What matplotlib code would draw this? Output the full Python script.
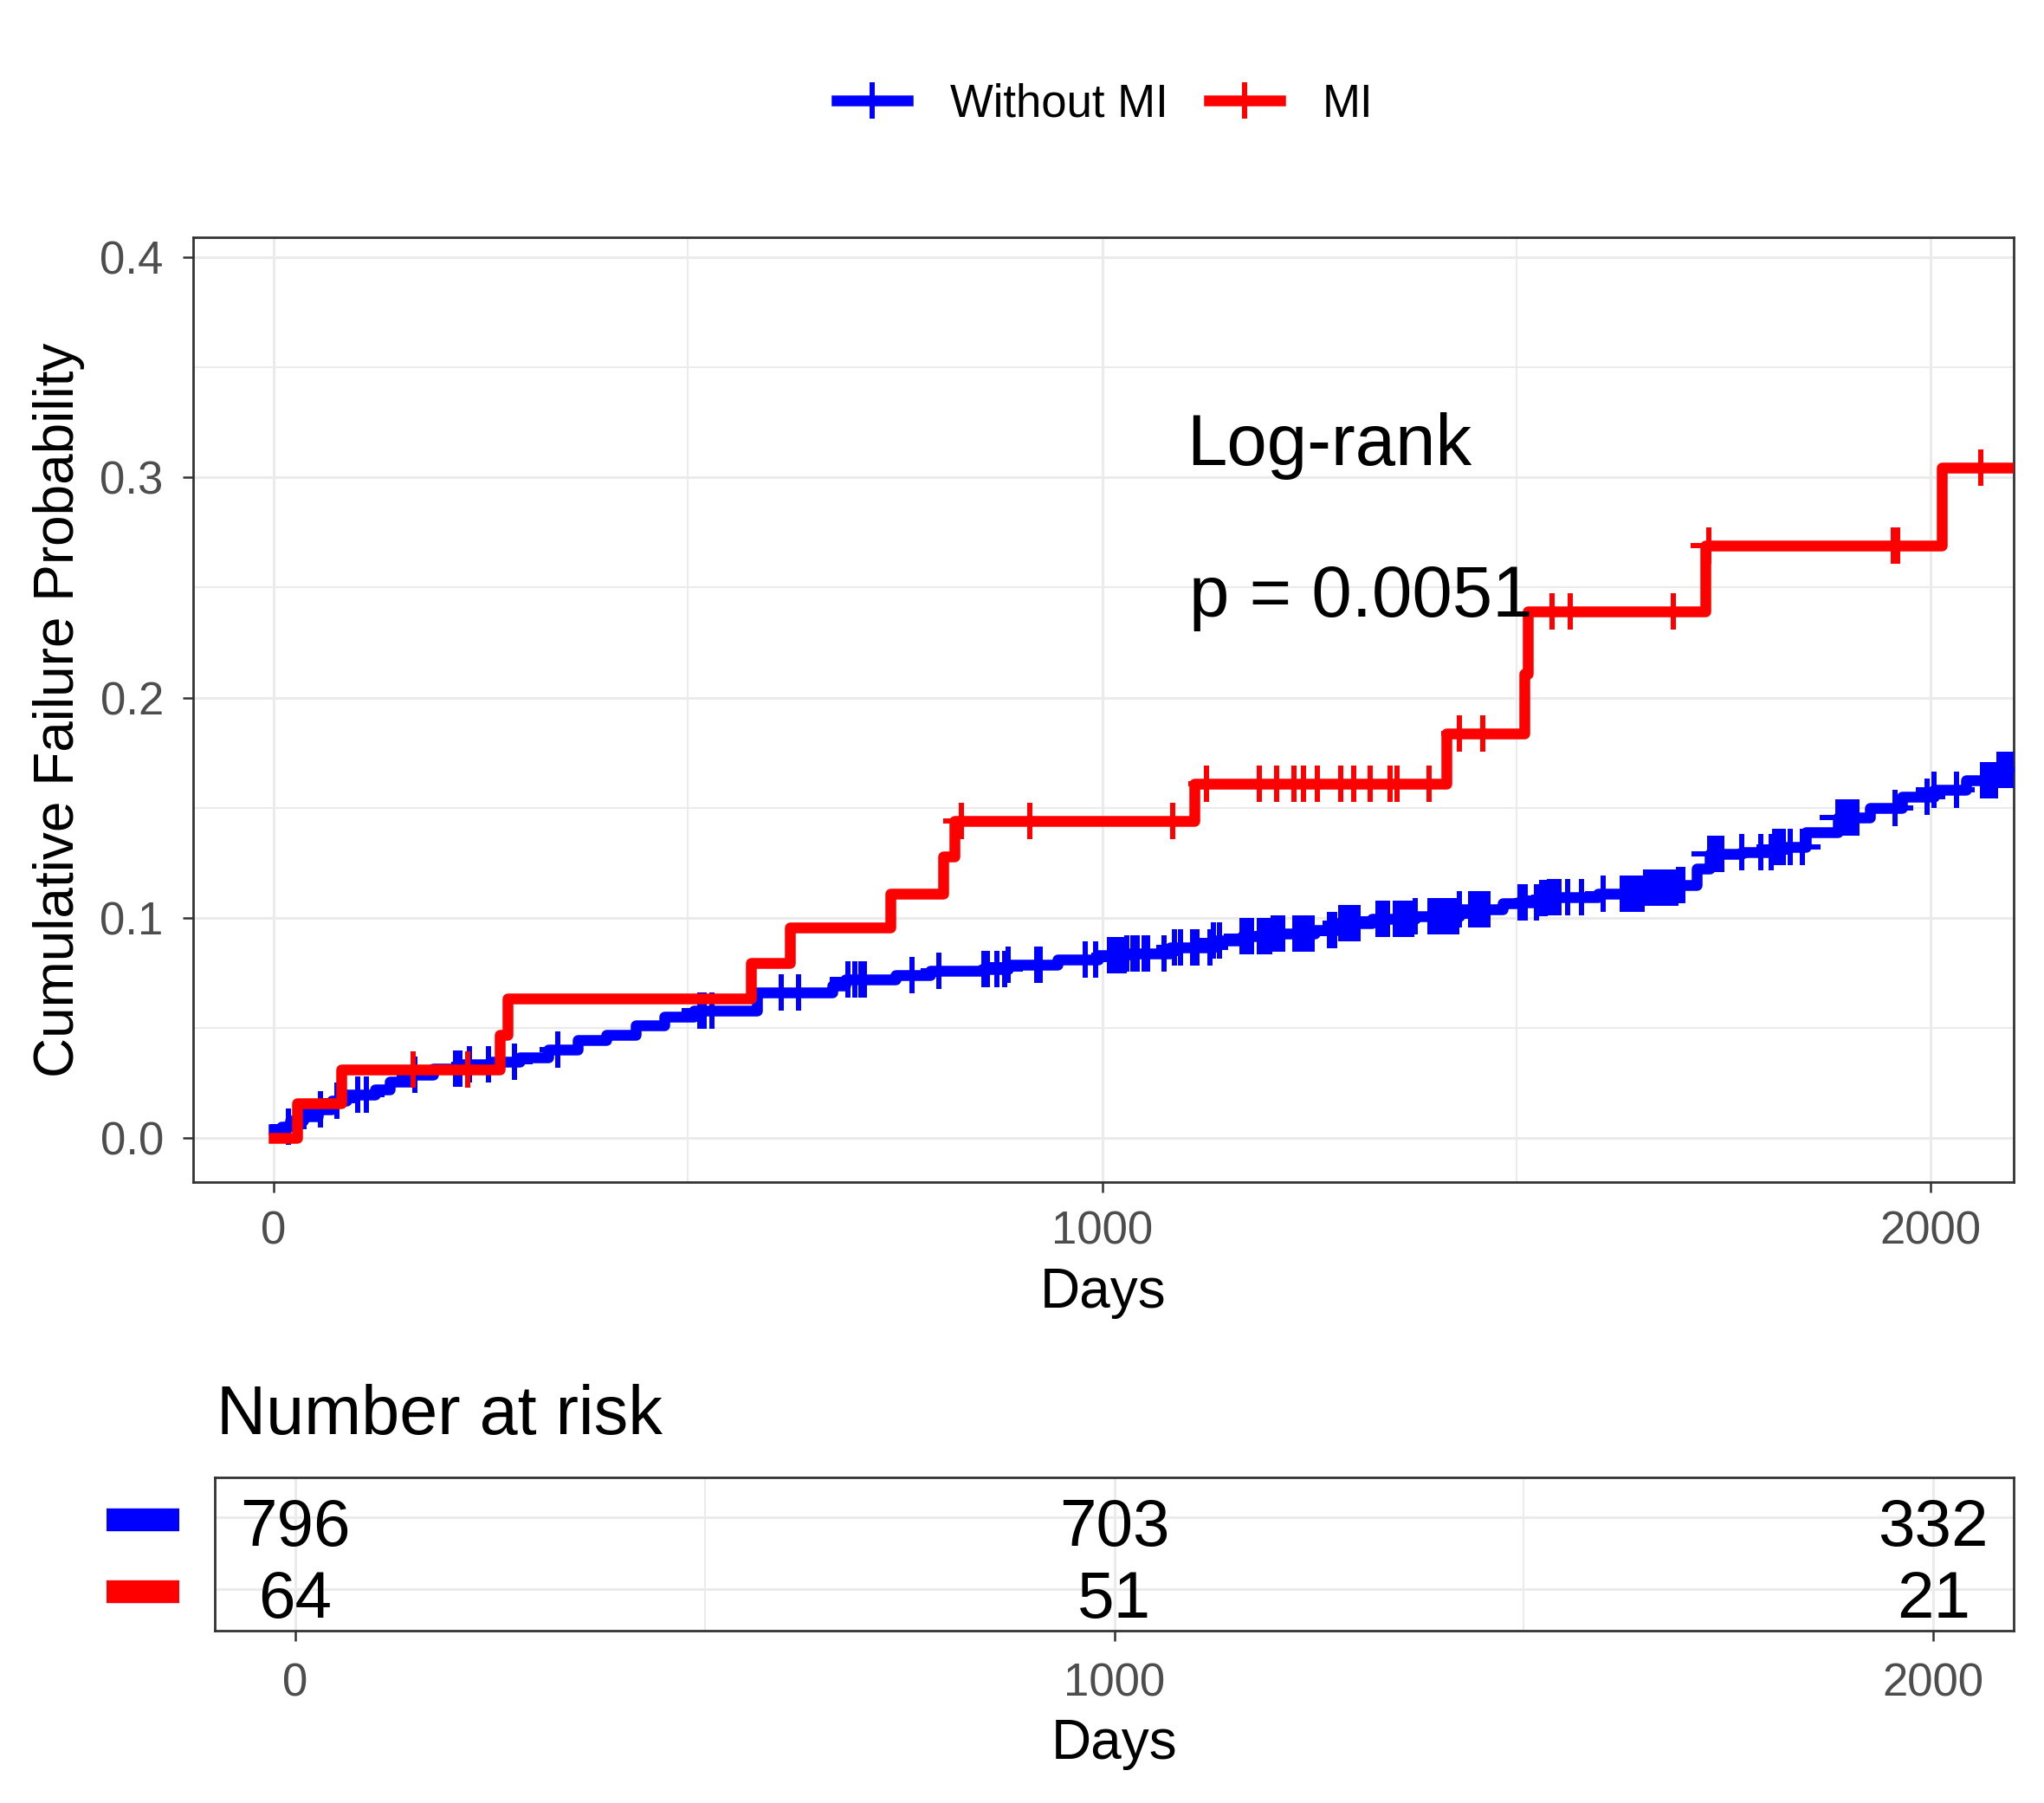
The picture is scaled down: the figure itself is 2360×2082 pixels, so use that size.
import matplotlib.pyplot as plt
import numpy as np
from matplotlib.lines import Line2D
from matplotlib.ticker import MultipleLocator
from matplotlib.transforms import blended_transform_factory, offset_copy

plt.rcParams['font.family'] = ['Liberation Sans', 'DejaVu Sans']

groups = ['Without MI', 'MI']
colors = ['#0000FF', '#FF0000']

# cumulative failure steps (days, probability)
blue_t = [0, 10, 20, 36, 53, 70, 88, 123, 140, 165, 193, 227, 262, 297, 332, 367,
          402, 437, 472, 507, 583, 674, 690, 751, 792, 855, 887, 946, 995, 1030,
          1082, 1134, 1169, 1205, 1257, 1284, 1326, 1378, 1431, 1483, 1501, 1525,
          1539, 1598, 1656, 1694, 1717, 1733, 1772, 1811, 1849, 1888, 1927, 1965,
          2004, 2043, 2082, 2100]
blue_p = [0.004, 0.005, 0.008, 0.010, 0.013, 0.017, 0.0196, 0.022, 0.0255, 0.0287,
          0.0314, 0.0334, 0.0346, 0.0366, 0.040, 0.0444, 0.047, 0.051, 0.055, 0.058,
          0.066, 0.0693, 0.072, 0.074, 0.0759, 0.0766, 0.0786, 0.081, 0.083, 0.084,
          0.0865, 0.0896, 0.0916, 0.093, 0.0943, 0.0975, 0.0994, 0.1006, 0.104,
          0.1066, 0.107, 0.109, 0.1095, 0.1108, 0.1137, 0.115, 0.1224, 0.129, 0.1297,
          0.132, 0.139, 0.1457, 0.150, 0.155, 0.158, 0.1623, 0.167, 0.167]
blue_cens = [18, 57, 76, 102, 112, 171, 220, 225, 236, 259, 291, 343,
             514, 520, 529, 613, 634, 693, 702, 709, 713, 771, 803, 857, 861, 873,
             882, 887, 921, 925, 980, 992, 1009, 1012, 1015, 1020, 1025, 1027, 1030,
             1037, 1042, 1051, 1055, 1075, 1087, 1094, 1109, 1114, 1130, 1134, 1142,
             1169, 1173, 1177, 1180, 1190, 1194, 1198, 1202, 1206, 1210, 1214, 1218,
             1232, 1236, 1240, 1244, 1248, 1253, 1274, 1278, 1281, 1288, 1292, 1296,
             1300, 1304, 1309, 1333, 1337, 1341, 1344, 1354, 1358, 1362, 1366, 1370,
             1374, 1378, 1396, 1400, 1404, 1408, 1412, 1416, 1420, 1424, 1428, 1431,
             1445, 1449, 1453, 1457, 1462, 1466, 1504, 1508, 1511, 1524, 1530, 1535,
             1540, 1546, 1551, 1562, 1578, 1605, 1628, 1632, 1636, 1640, 1644, 1648,
             1652, 1656, 1660, 1664, 1668, 1672, 1676, 1680, 1684, 1688, 1692, 1696,
             1701, 1733, 1738, 1743, 1748, 1772, 1795, 1807, 1812, 1817, 1822, 1830,
             1845, 1888, 1893, 1898, 1903, 1907, 1911, 1957, 1996, 2004, 2031, 2062,
             2066, 2070, 2074, 2078, 2082, 2086, 2090, 2094, 2097]

red_t = [0, 28, 82, 273, 282, 576, 623, 744, 808, 822, 1111, 1415, 1509, 1514,
         1728, 2013, 2100]
red_p = [0.0, 0.0156, 0.031, 0.047, 0.0635, 0.0795, 0.0955, 0.111, 0.1277, 0.1438,
         0.161, 0.1835, 0.211, 0.239, 0.269, 0.3044, 0.3044]
red_cens = [168, 234, 830, 913, 1085, 1126, 1190, 1211, 1231, 1243, 1260, 1288,
            1304, 1323, 1347, 1356, 1394, 1431, 1459, 1543, 1565, 1689, 1732, 1955,
            1960, 2060]

risk_times = [0, 1000, 2000]
risk_blue = [796, 703, 332]
risk_red = [64, 51, 21]
pval_lines = ['Log-rank', 'p = 0.0051']


def step_value(ts, ps, t):
    idx = np.searchsorted(ts, t, side='right') - 1
    return np.asarray(ps)[idx]


tick_col = '#4D4D4D'
border_col = '#333333'
grid_col = '#EBEBEB'
line_w = 9
mark_kw = dict(marker='+', ms=30, mew=4.3)

fig = plt.figure(figsize=(23.6, 20.82), dpi=100)
ax = fig.add_axes([223 / 2360, 1 - 1365 / 2082, 2102 / 2360, 1091 / 2082])
ax_r = fig.add_axes([248 / 2360, 1 - 1883 / 2082, 2077 / 2360, 177 / 2082])

series = [(blue_t, blue_p, blue_cens), (red_t, red_p, red_cens)]
for (ts, ps, cens), col in zip(series, colors):
    ax.step(ts, ps, where='post', color=col, lw=line_w, zorder=3)
    ax.plot(cens, step_value(ts, ps, cens), ls='none', color=col, zorder=3,
            **mark_kw)

ax.set_xlim(-97, 2100)
ax.set_ylim(-0.02, 0.409)
ax.xaxis.set_major_locator(MultipleLocator(1000))
ax.xaxis.set_minor_locator(MultipleLocator(500))
ax.yaxis.set_major_locator(MultipleLocator(0.1))
ax.yaxis.set_minor_locator(MultipleLocator(0.05))
ax.set_yticks([0, 0.1, 0.2, 0.3, 0.4], ['0.0', '0.1', '0.2', '0.3', '0.4'])

ax.text(1102, 0.3054, pval_lines[0], fontsize=60, va='baseline')
ax.text(1105, 0.2367, pval_lines[1], fontsize=60, va='baseline')

ax.set_xlabel('Days', fontsize=46)
ax.xaxis.set_label_coords(0.5, (1365 - 1493) / 1091)
ax.xaxis.label.set_va('center')
ax.set_ylabel('Cumulative Failure Probability', fontsize=46)
ax.yaxis.set_label_coords((68 - 223) / 2102, 0.5)
ax.yaxis.label.set_va('center')

# risk table
rows = [2, 1]
for row, counts in zip(rows, [risk_blue, risk_red]):
    tr = offset_copy(ax_r.transData, fig=fig, y=-24, units='points')
    for t, n in zip(risk_times, counts):
        ax_r.text(t, row, str(n), fontsize=55, ha='center', va='baseline',
                  transform=tr)
bar_tr = blended_transform_factory(fig.transFigure, ax_r.transData)
for row, col in zip(rows, colors):
    ax_r.plot([123 / 2360, 207 / 2360], [row - 0.04, row - 0.04], color=col,
              lw=19, solid_capstyle='butt', transform=bar_tr, clip_on=False)

ax_r.set_xlim(-98, 2098)
ax_r.set_ylim(0.42, 2.55)
ax_r.xaxis.set_major_locator(MultipleLocator(1000))
ax_r.xaxis.set_minor_locator(MultipleLocator(500))
ax_r.set_yticks(rows)
ax_r.set_yticklabels([])
ax_r.set_xlabel('Days', fontsize=46)
ax_r.xaxis.set_label_coords(0.5, (1883 - 2014) / 177)
ax_r.xaxis.label.set_va('center')
fig.text(250 / 2360, 1 - 1656 / 2082, 'Number at risk', fontsize=57, va='baseline')

for a in (ax, ax_r):
    a.set_axisbelow(True)
    a.grid(which='major', color=grid_col, lw=2.2)
    a.grid(which='minor', color=grid_col, lw=1.5)
    a.tick_params(which='major', length=8.6, width=1.8, color=border_col,
                  labelsize=38, labelcolor=tick_col)
    a.tick_params(which='minor', length=0)
    for s in a.spines.values():
        s.set_color(border_col)
        s.set_linewidth(2)
ax.tick_params(axis='x', pad=15)
ax.tick_params(axis='y', pad=16)
ax_r.tick_params(axis='x', pad=18)
ax_r.tick_params(axis='y', which='both', length=0)

handles = [Line2D([], [], color=c, lw=line_w, **mark_kw) for c in colors]
fig.legend(handles, groups, loc='center', bbox_to_anchor=(0.5405, 0.942), ncol=2,
           frameon=False, fontsize=38, handlelength=1.55, handletextpad=0.93,
           columnspacing=0.9)

fig.savefig('out.png', dpi=100, facecolor='white')
